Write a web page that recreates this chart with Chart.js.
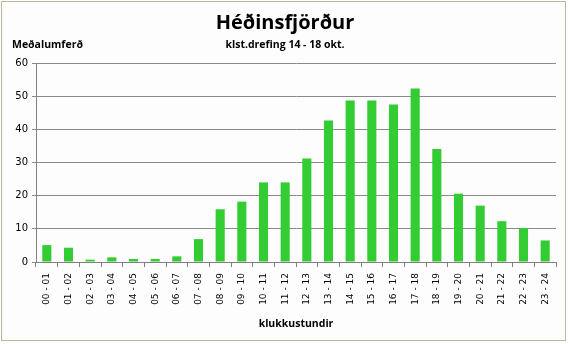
<!DOCTYPE html>
<html><head><meta charset="utf-8">
<script src="https://cdn.jsdelivr.net/npm/chart.js@4"></script>
<style>
html,body{margin:0;padding:0;background:#fff;}
#wrap{position:absolute;left:0;top:0;width:570px;height:344px;}
#frame{position:absolute;left:1px;top:1px;width:565px;height:340px;border:1px solid #bfb49a;box-sizing:border-box;background:#fdfdfd;}
.t{position:absolute;font-family:"Open Sans",sans-serif;font-weight:bold;color:#000;white-space:nowrap;}
</style></head>
<body>
<div id="wrap">
<div id="frame"></div>
<canvas id="c" width="570" height="344" style="position:absolute;left:0;top:0;width:570px;height:344px"></canvas>
<div class="t" id="title" style="left:0;width:570px;text-align:center;top:8px;font-size:20px;">Héðinsfjörður</div>
<div class="t" id="sub" style="left:0;width:570px;text-align:center;top:37px;font-size:10.5px;">klst.drefing 14 - 18 okt.</div>
<div class="t" id="ylab" style="left:12px;top:37px;font-size:10.5px;">Meðalumferð</div>
</div>
<script>
const categories = ["00 - 01","01 - 02","02 - 03","03 - 04","04 - 05","05 - 06","06 - 07","07 - 08","08 - 09","09 - 10","10 - 11","11 - 12","12 - 13","13 - 14","14 - 15","15 - 16","16 - 17","17 - 18","18 - 19","19 - 20","20 - 21","21 - 22","22 - 23","23 - 24"];
const values = [5.1,4.3,0.7,1.4,0.9,0.9,1.7,6.9,15.9,18.2,24.0,24.0,31.2,42.7,48.7,48.7,47.5,52.3,34.1,20.6,17.0,12.3,10.2,6.5];
const yTicks = [0,10,20,30,40,50,60];
const xTitle = "klukkustundir";

new Chart(document.getElementById('c'), {
  type: 'bar',
  data: { labels: categories, datasets: [{ data: values, backgroundColor: '#33cc33', borderWidth: 0, barPercentage: 0.42, categoryPercentage: 1.0 }] },
  options: {
    responsive: false, animation: false,
    layout: { padding: { left: 8, right: 14, top: 63, bottom: 14 } },
    plugins: { legend: { display: false }, tooltip: { enabled: false }, title: { display: false } },
    scales: {
      x: {
        afterFit: (s) => { s.height = 68; },
        grid: { offset: true, drawOnChartArea: false, drawTicks: true, tickLength: 5, color: '#808080' },
        border: { color: '#808080' },
        ticks: { minRotation: 90, maxRotation: 90, autoSkip: false, color: '#000', font: { family: 'DejaVu Sans', size: 9 }, padding: 6 },
        title: { display: true, text: xTitle, color: '#000', font: { family: 'Open Sans', size: 10.5, weight: 'bold' }, padding: { top: 0, bottom: 0 } }
      },
      y: {
        min: 0, max: 60,
        afterBuildTicks: (s) => { s.ticks = yTicks.map(v => ({ value: v })); },
        afterFit: (s) => { s.width = 28; },
        grid: { color: '#8a8a8a', tickLength: 4 },
        border: { color: '#808080' },
        ticks: { color: '#000', font: { family: 'DejaVu Sans', size: 10 }, padding: 4 }
      }
    }
  }
});
</script>
</body></html>
